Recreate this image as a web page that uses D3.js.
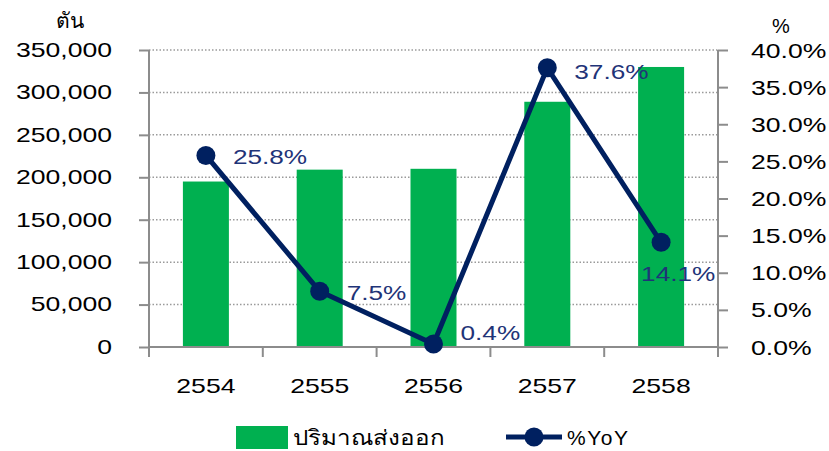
<!DOCTYPE html>
<html><head><meta charset="utf-8">
<script src="https://cdn.jsdelivr.net/npm/d3@7/dist/d3.min.js"></script>
<style>body{margin:0;background:#fff}svg{display:block}</style>
</head><body><svg id="c" width="829" height="451"></svg>
<script>
const categories = ["2554","2555","2556","2557","2558"];
const volume = [195000, 209000, 210000, 289000, 330000];
const yoy = [25.8, 7.5, 0.4, 37.6, 14.1];
const leftTicks = [0,50000,100000,150000,200000,250000,300000,350000];
const rightTicks = [0,5,10,15,20,25,30,35,40];
const seriesNames = ["ปริมาณส่งออก","%YoY"];
const leftUnit = "ตัน", rightUnit = "%";

const svg = d3.select("#c");
const m = {l:149, r:718, t:50, b:347};
const font = "'Liberation Sans', Arial, sans-serif";
const green = "#00B050", navy = "#002060", grey = "#8c8c8c";
const SX = 1.33;

function stretch(sel, s){
  sel.each(function(){
    const t = d3.select(this);
    const x0 = +t.attr("x") || 0, y0 = +t.attr("y") || 0;
    t.attr("x", 0).attr("y", 0).attr("transform", `translate(${x0},${y0}) scale(${s},1)`);
  });
}

const x = d3.scaleBand().domain(categories).range([m.l, m.r]).paddingInner(0).paddingOuter(0);
const yL = d3.scaleLinear().domain([0,350000]).range([m.b, m.t]);
const yR = d3.scaleLinear().domain([0,40]).range([m.b, m.t]);

// gridlines
svg.append("g").selectAll("line").data(leftTicks.filter(d=>d>0)).join("line")
  .attr("x1", m.l).attr("x2", m.r).attr("y1", d=>yL(d)).attr("y2", d=>yL(d))
  .attr("stroke", "#9a9a9a").attr("stroke-width", 1.5).attr("stroke-dasharray", "1.5,2");

// bars
const bw = 46;
svg.append("g").selectAll("rect").data(volume).join("rect")
  .attr("x", (d,i)=>x(categories[i]) + x.bandwidth()/2 - bw/2)
  .attr("width", bw)
  .attr("y", d=>yL(d)).attr("height", d=>yL(0)-yL(d))
  .attr("fill", green);

// axes
const fmt = d3.format(",");
const gl = svg.append("g").attr("transform", `translate(${m.l},0)`)
  .call(d3.axisLeft(yL).tickValues(leftTicks).tickFormat(fmt).tickSize(10).tickPadding(27));
const gr = svg.append("g").attr("transform", `translate(${m.r},0)`)
  .call(d3.axisRight(yR).tickValues(rightTicks).tickFormat(d=>d.toFixed(1)+"%").tickSize(10).tickPadding(0));
const bounds = [...categories.map(c=>x(c)), m.r];
const gb = svg.append("g").attr("transform", `translate(0,${m.b})`)
  .call(d3.axisBottom(x).tickSize(0).tickPadding(32));
gb.selectAll(".tick line").remove();
gb.append("g").selectAll("line").data(bounds).join("line")
  .attr("x1", d=>d).attr("x2", d=>d).attr("y1", 0).attr("y2", 10)
  .attr("stroke", grey).attr("stroke-width", 2);

[gl, gr, gb].forEach(g=>{
  g.selectAll(".domain").attr("stroke", grey).attr("stroke-width", 2);
  g.selectAll(".tick line").attr("stroke", grey).attr("stroke-width", 2);
  g.selectAll("text").attr("font-family", font).attr("font-size", 20).attr("fill", "#000");
});
gl.select(".domain").attr("d", `M0,${m.t}V${m.b}`);
gr.select(".domain").attr("d", `M0,${m.t}V${m.b}`);
gr.selectAll("text").attr("x", 33).attr("dy", "0.35em");
gb.select(".domain").attr("d", `M${m.l},0H${m.r}`);
gb.selectAll("text").attr("dy", "0.71em");
gl.selectAll("text").attr("x", -37);
stretch(gl.selectAll(".tick text"), SX);
stretch(gr.selectAll(".tick text"), SX);
stretch(gb.selectAll(".tick text"), SX);

// unit labels
svg.append("text").attr("x", 70).attr("y", 28).attr("text-anchor","middle")
  .attr("font-family", font).attr("font-size", 21).text(leftUnit);
svg.append("text").attr("x", 781).attr("y", 33).attr("text-anchor","middle")
  .attr("font-family", font).attr("font-size", 20).text(rightUnit);

// line
const cx = (i)=>x(categories[i]) + x.bandwidth()/2;
const line = d3.line().x((d,i)=>cx(i)).y(d=>yR(d));
svg.append("path").datum(yoy).attr("d", line).attr("fill","none")
  .attr("stroke", navy).attr("stroke-width", 5).attr("stroke-linejoin","round");
svg.append("g").selectAll("circle").data(yoy).join("circle")
  .attr("cx", (d,i)=>cx(i)).attr("cy", d=>yR(d)).attr("r", 9.5).attr("fill", navy);

// data labels
const lblOff = [[27,2],[27,2],[27,-11],[27,4],[-20,32]];
const dl = svg.append("g").selectAll("text").data(yoy).join("text")
  .attr("x", (d,i)=>cx(i)+lblOff[i][0]).attr("y", (d,i)=>yR(d)+lblOff[i][1]+7)
  .attr("font-family", font).attr("font-size", 20).attr("fill", "#1f3478")
  .text(d=>d.toFixed(1)+"%");
stretch(dl, 1.31);

// legend
const lg = svg.append("g");
lg.append("rect").attr("x", 236).attr("y", 426).attr("width", 52).attr("height", 23).attr("fill", green);
const lt = lg.append("text").attr("x", 293).attr("y", 445).attr("font-family", font).attr("font-size", 21).text(seriesNames[0]);
stretch(lt, 1.15);
lg.append("line").attr("x1", 506).attr("x2", 562).attr("y1", 437).attr("y2", 437).attr("stroke", navy).attr("stroke-width", 5);
lg.append("circle").attr("cx", 534).attr("cy", 437).attr("r", 9.5).attr("fill", navy);
lg.append("text").attr("x", 567).attr("y", 445).attr("font-family", font).attr("font-size", 21)
  .style("letter-spacing", "1.5px").text(seriesNames[1]);
</script></body></html>
